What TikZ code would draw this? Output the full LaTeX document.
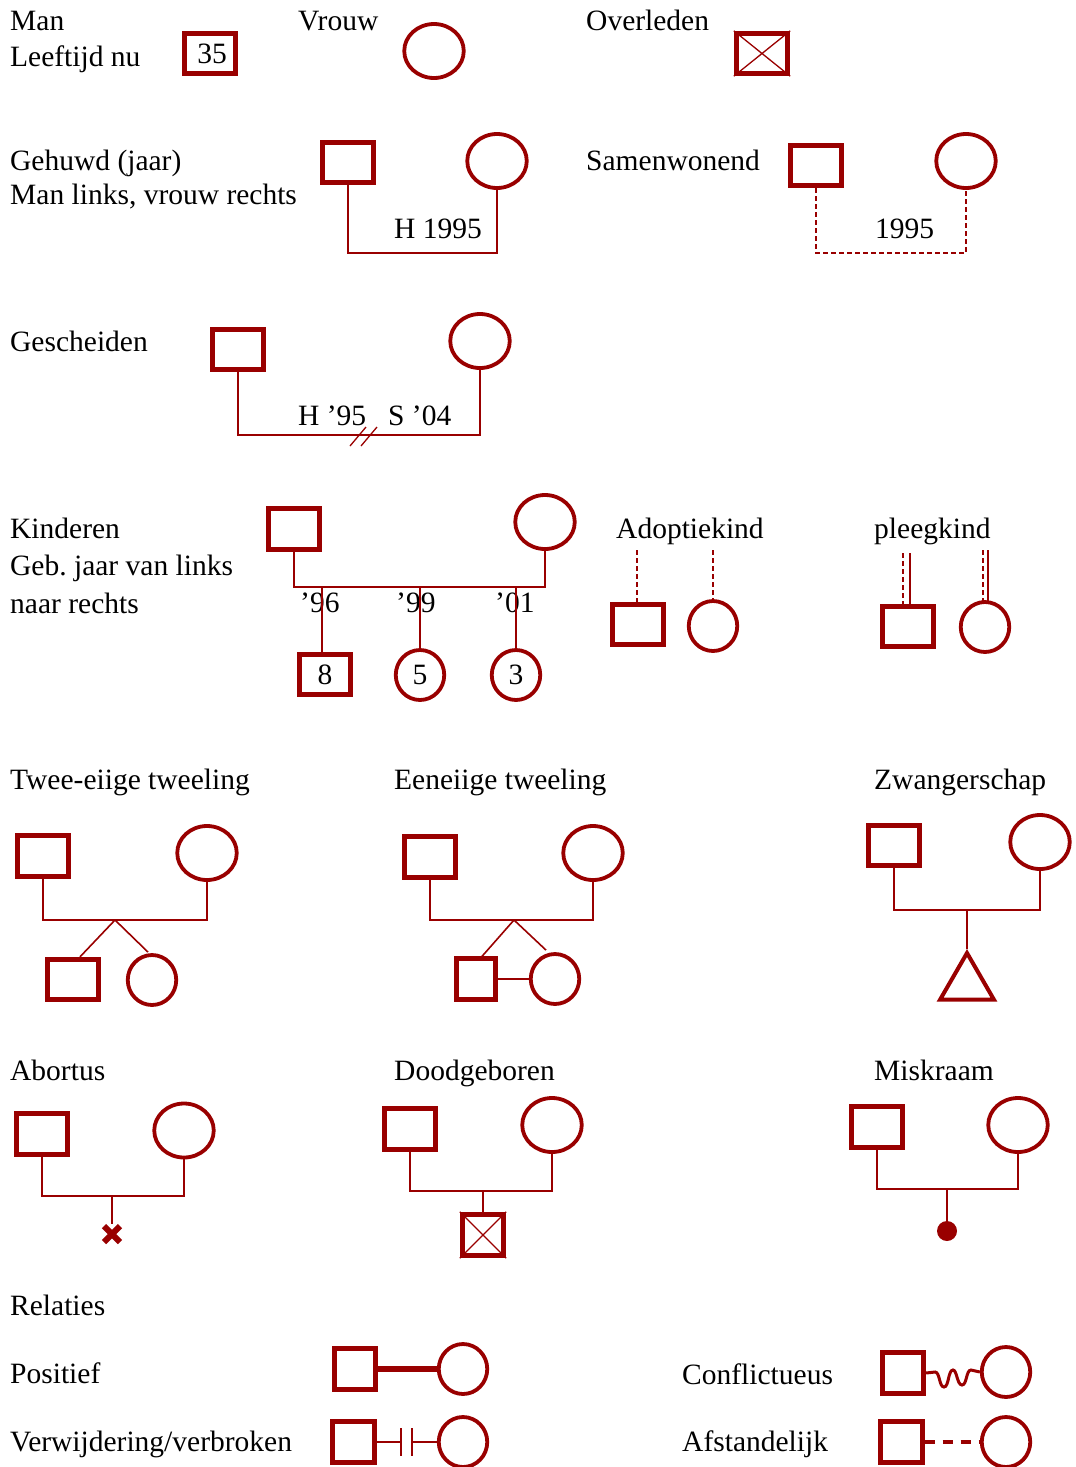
\documentclass[tikz,border=0pt]{standalone}
\usepackage{fontspec}
\setmainfont{Liberation Serif}
\usetikzlibrary{shapes.geometric,calc}
\definecolor{kc}{RGB}{153,0,0}
\newcommand{\fsz}{\fontsize{29.5}{35}\selectfont\frenchspacing}
\begin{document}
\begin{tikzpicture}[x=1pt,y=-1pt,
  lbl/.style={anchor=base west, inner sep=0pt, font=\fsz, text=black},
  man/.style={draw=kc, line width=4.8pt, rectangle, inner sep=0pt, minimum width=51.5pt, minimum height=40.5pt, font=\fsz},
  mansm/.style={man, minimum width=41.5pt},
  vrouw/.style={draw=kc, line width=3.8pt, ellipse, inner sep=0pt, minimum width=59.5pt, minimum height=54pt, font=\fsz},
  vrouwsm/.style={vrouw, minimum width=48.5pt, minimum height=50pt},
  conn/.style={draw=kc, line width=1.6pt},
  dconn/.style={draw=kc, line width=1.3pt, dash pattern=on 5pt off 3pt},
  xline/.style={draw=kc, line width=1.3pt}
]
\useasboundingbox (0,0) rectangle (1076,1467);
% ---------- row 1
\node[lbl] (tman) at (10,30) {Man};
\node[lbl] (tleef) at (10,66) {Leeftijd nu};
\node[man] (m35) at (210,53.5) {\hspace*{4pt}35};
\node[lbl] (tvrouw) at (298,30) {Vrouw};
\node[vrouw] (f1) at (434,51) {};
\node[lbl] (tover) at (586,30) {Overleden};
\node[man] (d1) at (762,53.5) {};
\draw[xline] (d1.north west) -- (d1.south east) (d1.north east) -- (d1.south west);
% ---------- row 2
\node[lbl] (tgeh) at (10,170) {Gehuwd (jaar)};
\node[lbl] (tgeh2) at (10,204) {Man links, vrouw rechts};
\node[man] (m2) at (348,162.5) {};
\node[vrouw] (f2) at (497,161) {};
\coordinate (c2) at (420,253);
\draw[conn] (m2.south) |- (c2) -| (f2.south);
\node[lbl] (th95) at (394,238) {H 1995};
\node[lbl] (tsam) at (586,170) {Samenwonend};
\node[man] (m3) at (816,165.5) {};
\node[vrouw] (f3) at (966,161) {};
\coordinate (c3) at (890,253);
\draw[dconn] (m3.south) |- (c3) -| (f3.south);
\node[lbl] (t1995) at (875,238) {1995};
% ---------- row 3
\node[lbl] (tgesch) at (10,351) {Gescheiden};
\node[man] (m4) at (238,349.5) {};
\node[vrouw] (f4) at (480,341) {};
\coordinate (c4) at (360,435);
\draw[conn] (m4.south) |- (c4) -| (f4.south);
\draw[xline] (350,446) -- (366,427) (361,446) -- (377,427);
\node[lbl] (th) at (298,425) {H ’95};
\node[lbl] (ts) at (388,425) {S ’04};
% ---------- row 4
\node[lbl] (tkind) at (10,538) {Kinderen};
\node[lbl] (tgeb) at (10,575) {Geb. jaar van links};
\node[lbl] (tnaar) at (10,613) {naar rechts};
\node[man] (m5) at (294,529) {};
\node[vrouw] (f5) at (545,522) {};
\coordinate (c5) at (420,587);
\draw[conn] (m5.south) |- (c5) -| (f5.south);
\node[lbl] (t96) at (300,612) {’96};
\node[lbl] (t99) at (396,612) {’99};
\node[lbl] (t01) at (495,612) {’01};
\node[man] (k1) at (325,674.5) {8};
\node[vrouwsm] (k2) at (420,675) {5};
\node[vrouwsm] (k3) at (516,675) {3};
\draw[conn] ([xshift=-3pt]k1.north |- c5) -- ([xshift=-3pt]k1.north);
\draw[conn] (k2.north |- c5) -- (k2.north);
\draw[conn] (k3.north |- c5) -- (k3.north);
% adoptie
\node[lbl] (tadop) at (616,538) {Adoptiekind};
\node[man] (am) at (638,624.5) {};
\node[vrouwsm] (af) at (713,626) {};
\coordinate (ca1) at (637,550);
\coordinate (ca2) at (713,550);
\draw[dconn] (ca1) -- (am.north -| ca1);
\draw[dconn] (ca2) -- (af.north);
% pleeg
\node[lbl] (tpleeg) at (874,538) {pleegkind};
\node[man] (pm) at (908,626.5) {};
\node[vrouwsm] (pf) at (985,627) {};
\coordinate (cp1) at (903,553);
\coordinate (cp2) at (910,553);
\coordinate (cp3) at (983,550);
\coordinate (cp4) at (988,550);
\draw[dconn] (cp1) -- (pm.north -| cp1);
\draw[conn] (cp2) -- (pm.north -| cp2);
\draw[dconn] (cp3) -- ($(pf.north -| cp3)+(0,1)$);
\draw[conn] (cp4) -- ($(pf.north -| cp4)+(0,1)$);
% ---------- row 5
\node[lbl] (ttwee) at (10,789) {Twee-eiige tweeling};
\node[man] (t1m) at (43,856) {};
\node[vrouw] (t1f) at (207,853) {};
\coordinate (ct1) at (115,920);
\draw[conn] (t1m.south) |- (ct1) -| (t1f.south);
\node[man] (t1a) at (73,979.5) {};
\node[vrouwsm] (t1b) at (152,980) {};
\draw[conn] (ct1) -- ([xshift=7pt]t1a.north);
\draw[conn] (ct1) -- ([xshift=-4pt,yshift=1pt]t1b.north);
\node[lbl] (teen) at (394,789) {Eeneiige tweeling};
\node[man] (e1m) at (430,857) {};
\node[vrouw] (e1f) at (593,853) {};
\coordinate (ce1) at (514,920);
\draw[conn] (e1m.south) |- (ce1) -| (e1f.south);
\node[man, minimum width=39.5pt] (e1a) at (476,979) {};
\node[vrouwsm] (e1b) at (555,979) {};
\draw[conn] (ce1) -- ([xshift=6pt]e1a.north);
\draw[conn] (ce1) -- ([xshift=-9pt,yshift=2pt]e1b.north);
\draw[conn] (e1a.east) -- (e1b.west);
\node[lbl] (tzw) at (874,789) {Zwangerschap};
\node[man] (zm) at (894,845.5) {};
\node[vrouw] (zf) at (1040,842) {};
\coordinate (cz) at (967,910);
\draw[conn] (zm.south) |- (cz) -| (zf.south);
\node[draw=kc, line width=4pt, regular polygon, regular polygon sides=3, minimum size=62pt, inner sep=0pt] (tri) at (967,984) {};
\draw[conn] (cz) -- (tri.north);
% ---------- row 6
\node[lbl] (tabo) at (10,1080) {Abortus};
\node[man] (am2) at (42,1134) {};
\node[vrouw] (af2) at (184,1130.5) {};
\coordinate (cab) at (112,1196);
\draw[conn] (am2.south) |- (cab) -| (af2.south);
\coordinate (xab) at (112,1234);
\draw[conn] (cab) -- ($(xab)+(0,-10)$);
\draw[draw=kc, line width=6pt] ($(xab)+(-8,-8)$) -- ($(xab)+(8,8)$) ($(xab)+(8,-8)$) -- ($(xab)+(-8,8)$);
\node[lbl] (tdood) at (394,1080) {Doodgeboren};
\node[man] (dm) at (410,1129) {};
\node[vrouw] (df) at (552,1125) {};
\coordinate (cd) at (483,1191);
\draw[conn] (dm.south) |- (cd) -| (df.south);
\node[man, minimum width=41.5pt, minimum height=41.5pt] (dk) at (483,1235) {};
\draw[xline] (dk.north west) -- (dk.south east) (dk.north east) -- (dk.south west);
\draw[conn] (cd) -- (dk.north);
\node[lbl] (tmis) at (874,1080) {Miskraam};
\node[man] (mm) at (877,1127) {};
\node[vrouw] (mf) at (1018,1125) {};
\coordinate (cm) at (947,1189);
\draw[conn] (mm.south) |- (cm) -| (mf.south);
\node[circle, fill=kc, inner sep=0pt, minimum size=20pt] (dot) at (947,1231) {};
\draw[conn] (cm) -- (dot.north);
% ---------- row 7
\node[lbl] (trel) at (10,1315) {Relaties};
\node[lbl] (tpos) at (10,1383) {Positief};
\node[mansm] (r1m) at (355,1369) {};
\node[vrouwsm] (r1f) at (463,1369) {};
\draw[draw=kc, line width=5.5pt] (r1m.east) -- (r1f.west);
\node[lbl] (tverw) at (10,1451) {Verwijdering/verbroken};
\node[mansm] (r2m) at (353.5,1442) {};
\node[vrouwsm] (r2f) at (463,1442) {};
\coordinate (b1) at (401,1442);
\coordinate (b2) at (412,1442);
\draw[conn, line width=2pt] (r2m.east) -- (b1) (b2) -- (r2f.west);
\draw[conn, line width=2pt] ($(b1)+(0,-14)$) -- ($(b1)+(0,14)$) ($(b2)+(0,-14)$) -- ($(b2)+(0,14)$);
\node[lbl] (tconf) at (682,1384) {Conflictueus};
\node[mansm] (r3m) at (903,1373) {};
\node[vrouwsm] (r3f) at (1006,1372) {};
\draw[draw=kc, line width=3pt] (r3m.east) -- (935,1372) .. controls (940,1372) and (939,1387) .. (944,1387) .. controls (949,1387) and (948,1370) .. (953,1370) .. controls (957,1370) and (957,1385) .. (962,1385) .. controls (967,1385) and (966,1370) .. (971,1370) -- (r3f.west);
\node[lbl] (tafst) at (682,1451) {Afstandelijk};
\node[mansm] (r4m) at (901.5,1442) {};
\node[vrouwsm] (r4f) at (1006,1442) {};
\draw[draw=kc, line width=3.5pt, dash pattern=on 10pt off 8pt] (r4m.east) -- (r4f.west);
\end{tikzpicture}
\end{document}
